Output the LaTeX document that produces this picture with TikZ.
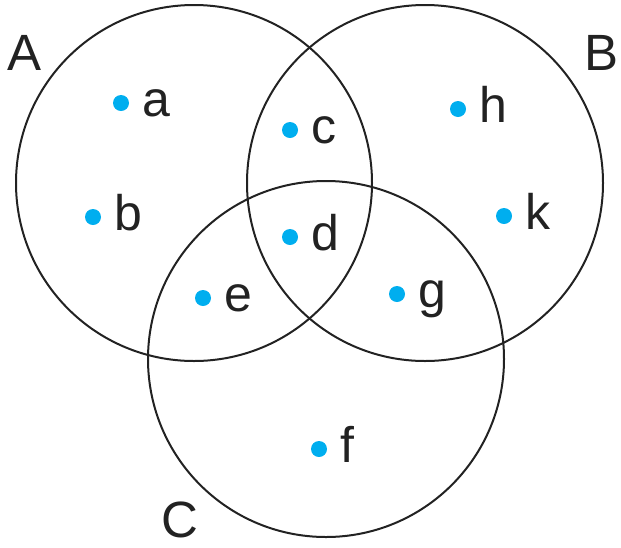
\documentclass[tikz,border=0pt]{standalone}
\usepackage{fontspec}
\setmainfont{Liberation Sans}
\definecolor{dotblue}{HTML}{00AEEF}
\definecolor{ink}{HTML}{222222}
\tikzset{
  setcircle/.style={circle,draw=ink,line width=2pt,minimum size=356pt,inner sep=0pt},
  elem/.style={circle,fill=dotblue,minimum size=16pt,inner sep=0pt},
  elemlabel/.style={anchor=base west,inner sep=0pt,text=ink,font=\fontsize{50}{60}\selectfont},
  setlabel/.style={anchor=base,inner sep=0pt,text=ink,font=\fontsize{51}{60}\selectfont}
}
\begin{document}
\begin{tikzpicture}[x=1pt,y=-1pt]
\useasboundingbox (0,0) rectangle (621,547);
\node[setcircle] (A) at (194,183) {};
\node[setcircle] (B) at (425,183) {};
\node[setcircle] (C) at (326,359) {};
\node[setlabel] (lA) at (25,70) {A};
\node[setlabel] (lB) at (602,70) {B};
\node[setlabel] (lC) at (180,537) {C};
\foreach \n/\x/\y in {a/121/103, b/93/217, c/290/130, d/290/237, e/203/298, g/397/294, f/319/449, h/458/109, k/504/216}{
  \node[elem] (\n) at (\x,\y) {};
  \node[elemlabel] (l\n) at (\x+21,\y+13.5) {\n};
}
\end{tikzpicture}
\end{document}
